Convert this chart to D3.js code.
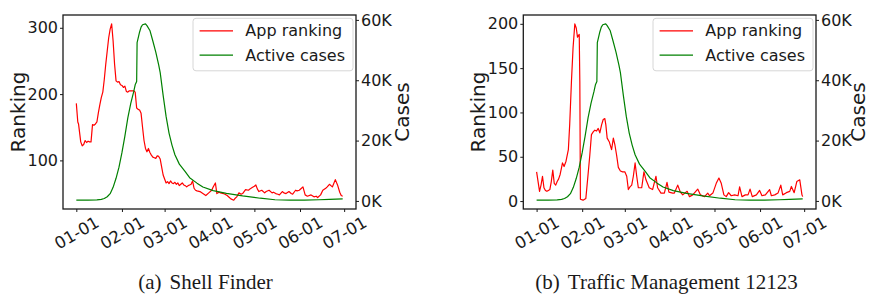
<!DOCTYPE html>
<html>
<head>
<meta charset="utf-8">
<script src="https://cdn.jsdelivr.net/npm/d3@7"></script>
<style>
  body { margin: 0; background: #fff; }
  svg { display: block; }
</style>
</head>
<body>
<svg id="chart" width="871" height="296"></svg>
<script>
// day offset from 2020-01-01, value
const shellFinderRank = [
  [0,186],[1,158],[1.5,155],[3,128],[4,122],[5,124],[6,130],[7,127],[8,129],[9,128],[10,128],
  [11,154],[12,153],[13,155],[14,158],[15,172],[16,184],[17,195],[18,203],[19,222],[20,245],
  [21,265],[22,285],[23,298],[24,306],[25,280],[26,245],[27,220],[28,218],[29,219],[30,214],
  [31,213],[32,210],[33,212],[34,204],[35,203],[36,205],[37,205],[38,205],[39,205],[40,203],
  [41,179],[42,177],[43,176],[44,171],[45,150],[46,130],[47,118],[48,113],[49,118],[50,112],
  [51,108],[52,105],[53,104],[54,103],[55,107],[56,106],[57,102],[58,90],[59,78],[60,72],
  [61,66],[62,68],[63,65],[64,69],[65,66],[66,65],[67,67],[68,64],[69,66],[70,62],[71,64],
  [72,66],[73,63],[74,62],[75,60],[76,62],[77,63],[78,64],[79,69],[80,58],[81,55],[82,54],
  [84,53],[86,50],[88,47],[90,51],[92,55],[93,60],[94.5,66],[95.5,50],[97,52],[98,51],
  [100,50],[101,49],[102.5,47],[104,44],[105,42],[107,40],[108,43],[109,45],[110.5,51],
  [112,49],[113,50],[115,56],[117,55],[118,57],[119.5,59],[121,61],[122,63],[123,57],
  [124,53],[126,55],[128,51],[129,53],[131,55],[133,51],[134,52],[135.5,50],[137,49],
  [138,48],[140,53],[141,51],[142.5,50],[144.5,53],[146,50],[147,49],[149,55],[150,54],
  [151.5,55],[153,58],[154,60],[155.5,48],[157,46],[159.5,48],[161.5,45],[163,46],[164,44],
  [166,48],[167.5,55],[169.5,58],[170.5,60],[172,64],[173,62],[174,60],[176,71],[177.5,63],
  [179,52],[180,47],[181,46]
];

const trafficRank = [
  [0,33],[1,22],[2,11],[3,18],[4,28],[5,15],[6,12],[7,11],[8,12],[9,13],[10,22],[11,35],
  [12,20],[13,18],[14,22],[15,25],[16,30],[17,38],[17.6,43],[18.7,39],[20,45],[21.6,58],
  [22.5,86],[23.7,135],[24.8,173],[26,200],[27,195],[27.8,185],[28.5,187],[29,188],
  [29.4,135],[29.8,2],[31.6,1],[33.5,3],[35,30],[36.2,52],[37.3,75],[38.5,78],[39.6,80],
  [40.8,79],[41.9,82],[43,77],[44.2,86],[45.3,92],[46.4,93],[47.1,86],[48,71],[49.4,67],
  [51,58],[52.2,71],[53.3,63],[54.4,52],[55.6,38],[57,34],[58.5,33],[60,33],[61.3,28],
  [62.4,13],[63.5,16],[64.7,18],[65.8,28],[67,43],[68.1,28],[69.2,15],[71.5,15],[73,33],
  [74.4,24],[76.6,15],[78.9,13],[81.2,28],[82.3,15],[84.6,9],[86.9,9],[88.7,21],[90,10],
  [92.6,9],[93.7,9],[96,18],[97.8,10],[99.4,7],[102.4,11],[104,5],[106.2,7],[109.6,13.5],
  [111.4,7],[114.2,5],[116.4,9],[117.6,6],[119.9,9],[122.2,20],[124,26],[125.6,20],
  [127.4,7],[129,5],[130.6,9.5],[132.4,6],[134.7,7],[137,6],[138.1,16],[139.7,5],[142,7],
  [143.8,7],[145.2,13.5],[146.7,5],[149.5,7],[151.7,12],[153.3,6],[155.6,7],[158.5,13],
  [159.7,6],[162,7],[164.2,9],[166.1,18],[167.4,7],[169.9,9.5],[172.2,11],[173.3,16.5],
  [175.2,9.5],[177,22],[179,24],[180.5,7],[181,5]
];

// active cases, thousands
const activeCases = [
  [0,0.3],[8,0.3],[14,0.35],[17,0.5],[19,0.8],[21,1.4],[23,2.4],[25,4.5],[27,7.5],
  [29,11.2],[31,16],[33,21.5],[35,27.5],[37,32.3],[39,36.2],[40,38.5],[41,39.6],[41.3,52.5],
  [43,56],[44,57.6],[45,58.4],[47,58.7],[48,58.1],[50,56.5],[52,53],[54,49.3],[56,45],
  [57,42.5],[59,35],[61,28],[63,22.5],[65,18.5],[67,15.3],[70,12.2],[74,9.7],[77,7.7],
  [82,5.9],[86,4.6],[93,3.4],[102,2.5],[113,1.65],[125,0.9],[135,0.4],[145,0.25],
  [155,0.25],[165,0.4],[172,0.5],[181,0.7]
];

const rankTicksA = [100, 200, 300];
const rankTicksB = [0, 50, 100, 150, 200];
const caseTicks = [0, 20, 40, 60];
const legendLabels = ["App ranking", "Active cases"];
const captionA = ["(a)", "Shell Finder"];
const captionB = ["(b)", "Traffic Management 12123"];

const svg = d3.select("#chart");
const t0 = Date.UTC(2020, 0, 1);
const toDate = d => new Date(t0 + d * 864e5);
const sans = "'DejaVu Sans', sans-serif";
const ink = "#1a1a1a";

function padded(ext) {
  const p = (ext[1] - ext[0]) * 0.05;
  return [ext[0] - p, ext[1] + p];
}

function drawPanel(cfg) {
  const { left, right, top, bottom } = cfg;
  const g = svg.append("g");

  const xExt = d3.extent(cfg.rank, d => d[0]);
  const x = d3.scaleUtc()
    .domain(padded(xExt).map(toDate))
    .range([left, right]);
  const yR = d3.scaleLinear()
    .domain(padded(d3.extent(cfg.rank, d => d[1])))
    .range([bottom, top]);
  const yC = d3.scaleLinear()
    .domain(padded(d3.extent(activeCases, d => d[1])))
    .range([bottom, top]);

  // x axis
  const months = d3.utcMonth.range(new Date(t0), toDate(183));
  const fmt = d3.utcFormat("%m-%d");
  const xa = g.append("g").attr("transform", `translate(0,${bottom})`)
    .call(d3.axisBottom(x).tickValues(months).tickFormat(fmt).tickSize(3).tickSizeOuter(0));
  xa.select(".domain").remove();
  xa.selectAll("line").attr("stroke", ink);
  xa.selectAll("text")
    .attr("font-family", sans).attr("font-size", 16.5).attr("fill", ink)
    .attr("text-anchor", "middle").attr("dominant-baseline", "central")
    .attr("y", 0).attr("dy", null)
    .attr("transform", "translate(0,24) rotate(-30)");

  // left axis
  const ya = g.append("g").attr("transform", `translate(${left},0)`)
    .call(d3.axisLeft(yR).tickValues(cfg.rankTicks).tickSize(3).tickPadding(2));
  ya.select(".domain").remove();
  ya.selectAll("line").attr("stroke", ink);
  ya.selectAll("text").attr("font-family", sans).attr("font-size", 16).attr("fill", ink);

  // right axis
  const yc = g.append("g").attr("transform", `translate(${right},0)`)
    .call(d3.axisRight(yC).tickValues(caseTicks).tickFormat(d => d + "K").tickSize(3).tickPadding(2));
  yc.select(".domain").remove();
  yc.selectAll("line").attr("stroke", ink);
  yc.selectAll("text").attr("font-family", sans).attr("font-size", 16).attr("fill", ink);

  // lines
  const clipId = "clip" + cfg.id;
  g.append("clipPath").attr("id", clipId)
    .append("rect").attr("x", left).attr("y", top).attr("width", right - left).attr("height", bottom - top);

  g.append("path").datum(cfg.rank)
    .attr("clip-path", `url(#${clipId})`)
    .attr("fill", "none").attr("stroke", "#ff0000").attr("stroke-width", 1.2)
    .attr("stroke-linejoin", "round")
    .attr("d", d3.line().x(d => x(toDate(d[0]))).y(d => yR(d[1])));

  g.append("path").datum(activeCases)
    .attr("clip-path", `url(#${clipId})`)
    .attr("fill", "none").attr("stroke", "#008000").attr("stroke-width", 1.2)
    .attr("stroke-linejoin", "round")
    .attr("d", d3.line().x(d => x(toDate(d[0]))).y(d => yC(d[1])));

  // frame
  g.append("rect")
    .attr("x", left).attr("y", top).attr("width", right - left).attr("height", bottom - top)
    .attr("fill", "none").attr("stroke", ink).attr("stroke-width", 1.3);

  // axis titles
  g.append("text")
    .attr("transform", `translate(${left - 38},${(top + bottom) / 2}) rotate(-90)`)
    .attr("text-anchor", "middle").attr("font-family", sans).attr("font-size", 20).attr("fill", ink)
    .text("Ranking");
  g.append("text")
    .attr("transform", `translate(${right + cfg.casesGap},${(top + bottom) / 2}) rotate(-90)`)
    .attr("text-anchor", "middle").attr("font-family", sans).attr("font-size", 20).attr("fill", ink)
    .text("Cases");

  // legend
  const lg = g.append("g").attr("transform", `translate(${right - 163},${top + 3.3})`);
  lg.append("rect").attr("width", 160).attr("height", 52.5).attr("rx", 3)
    .attr("fill", "#fff").attr("fill-opacity", 0.8).attr("stroke", "#d6d6d6").attr("stroke-width", 1);
  const colors = ["#ff0000", "#008000"];
  legendLabels.forEach((lab, i) => {
    const yy = 12.5 + i * 24.3;
    lg.append("line").attr("x1", 6.6).attr("x2", 40).attr("y1", yy).attr("y2", yy)
      .attr("stroke", colors[i]).attr("stroke-width", 1.2);
    lg.append("text").attr("x", 52.3).attr("y", yy).attr("dominant-baseline", "central")
      .attr("font-family", sans).attr("font-size", 16).attr("fill", ink).text(lab);
  });

  // caption
  const cap = svg.append("text")
    .attr("x", cfg.captionX).attr("y", 289)
    .attr("text-anchor", "middle")
    .attr("font-family", "'Liberation Serif', 'DejaVu Serif', serif").attr("font-size", 21).attr("fill", ink);
  cap.append("tspan").text(cfg.caption[0]);
  cap.append("tspan").attr("dx", 8).text(cfg.caption[1]);
}

drawPanel({ id: "a", left: 63, right: 356, top: 15, bottom: 209, casesGap: 53,
  rank: shellFinderRank, rankTicks: rankTicksA, caption: captionA, captionX: 205.5 });
drawPanel({ id: "b", left: 523.3, right: 816, top: 15, bottom: 209, casesGap: 49,
  rank: trafficRank, rankTicks: rankTicksB, caption: captionB, captionX: 666.5 });
</script>
</body>
</html>
